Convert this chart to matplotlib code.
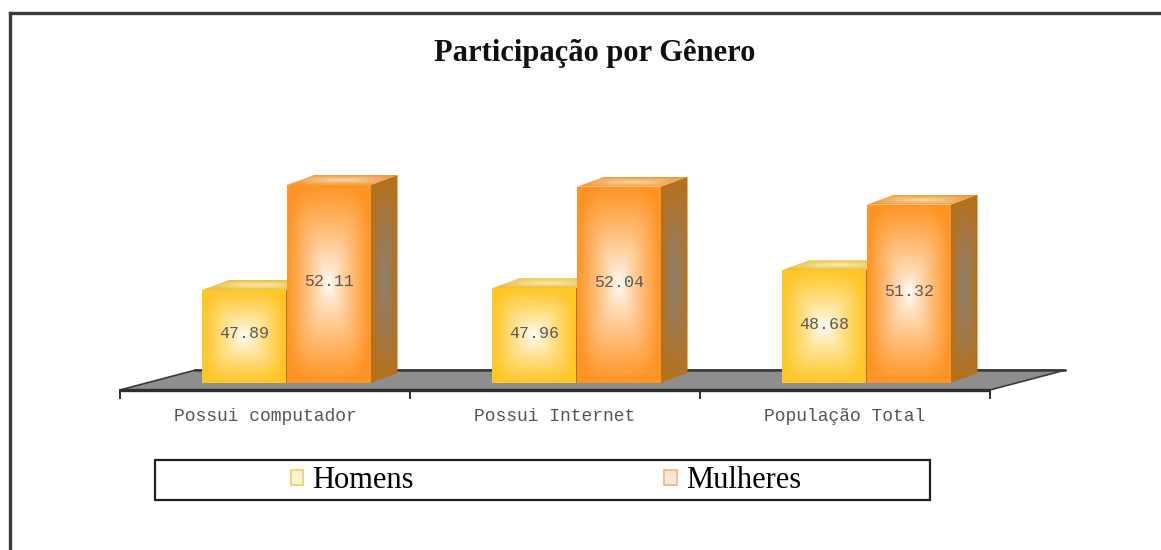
import numpy as np
import matplotlib
matplotlib.use("Agg")
import matplotlib.pyplot as plt
from matplotlib.patches import Polygon, Rectangle, Patch
from matplotlib.lines import Line2D

# ----- data -----
categories = ["Possui computador", "Possui Internet", "População Total"]
series_names = ["Homens", "Mulheres"]
homens = [47.89, 47.96, 48.68]
mulheres = [52.11, 52.04, 51.32]
axis_min = 44.15

# ----- styling -----
front_edge = {"Homens": "#FFC626", "Mulheres": "#FF9424"}
top_center = {"Homens": "#FCEBB0", "Mulheres": "#FCD8A8"}
top_edge = {"Homens": "#E9BC3A", "Mulheres": "#EE9836"}
side_center = "#8C8074"
side_edge = "#B6711A"
legend_fill = {"Homens": "#FEF4D4", "Mulheres": "#FDE7D4"}
legend_line = {"Homens": "#F2CB62", "Mulheres": "#F4B27A"}

bar_w = 0.288
offsets = {"Homens": -0.217, "Mulheres": 0.076}
DX, DY = 0.093, 0.40          # bar depth (oblique)
FDX, FDY = 0.26, 0.80         # floor depth


def hex_rgb(c):
    return np.array(matplotlib.colors.to_rgb(c))


def gradient_fill(ax, verts, center, edge, z, power=1.0):
    """Soft rectangle-from-center gradient clipped to a polygon."""
    verts = np.asarray(verts)
    poly = Polygon(verts, closed=True, facecolor="none", edgecolor="none", zorder=z)
    ax.add_patch(poly)
    n = 160
    u = np.linspace(-1, 1, n)
    U, V = np.meshgrid(u, u)
    t = np.clip((np.abs(U) ** 4 + np.abs(V) ** 4) ** 0.25, 0, 1) ** power
    c0, c1 = hex_rgb(center), hex_rgb(edge)
    img = c0[None, None, :] * (1 - t[..., None]) + c1[None, None, :] * t[..., None]
    x0, y0 = verts.min(axis=0)
    x1, y1 = verts.max(axis=0)
    im = ax.imshow(img, extent=(x0, x1, y0, y1), origin="lower", aspect="auto",
                   interpolation="bilinear", zorder=z)
    im.set_clip_path(poly)
    return poly


fig = plt.figure(figsize=(11.61, 5.5), dpi=100)
ax = fig.add_axes([0, 0, 1, 1])
ax.axis("off")

x = np.arange(len(categories))

# floor
f_front = axis_min - 0.28
floor = Polygon([(-0.5, f_front), (2.5, f_front),
                 (2.5 + FDX, f_front + FDY), (-0.5 + FDX, f_front + FDY)],
                closed=True, facecolor="#8E8E8E", edgecolor="#3A3A3A",
                linewidth=1.2, zorder=1)
ax.add_patch(floor)
ax.plot([-0.5, 2.5], [f_front, f_front], color="#2E2E2E", lw=2.4, zorder=2,
        solid_capstyle="butt")
ax.plot([-0.5 + FDX, 2.5 + FDX], [f_front + FDY, f_front + FDY],
        color="#3A3A3A", lw=1.8, zorder=2)
for b in np.arange(len(categories) + 1) - 0.5:
    ax.plot([b, b], [f_front, f_front - 0.32], color="#2E2E2E", lw=1.4, zorder=2)

# bars
z = 3
for name, vals in zip(series_names, [homens, mulheres]):
    heights = np.array(vals) - axis_min
    bars = ax.bar(x + offsets[name], heights, bar_w, bottom=axis_min,
                  align="edge", facecolor="none", edgecolor="none")
    for rect, v in zip(bars, vals):
        x0, y0 = rect.get_x(), rect.get_y()
        x1, y1 = x0 + rect.get_width(), y0 + rect.get_height()
        # side face
        gradient_fill(ax, [(x1, y0), (x1 + DX, y0 + DY), (x1 + DX, y1 + DY), (x1, y1)],
                      side_center, side_edge, z)
        # top face
        gradient_fill(ax, [(x0, y1), (x1, y1), (x1 + DX, y1 + DY), (x0 + DX, y1 + DY)],
                      top_center[name], top_edge[name], z + 0.1)
        # front face
        gradient_fill(ax, [(x0, y0), (x1, y0), (x1, y1), (x0, y1)],
                      "#FFFFFF", front_edge[name], z + 0.2, power=0.8)
        ax.text((x0 + x1) / 2, (y0 + y1) / 2 + 0.1, f"{v:.2f}",
                ha="center", va="center", fontsize=12,
                family="Liberation Mono", color="#5A5A5A", zorder=z + 0.3)
        z += 0.01
    z += 1

# category labels
for xi, cat in zip(x, categories):
    ax.text(xi, f_front - 1.05, cat, ha="center", va="center", fontsize=13,
            family="Liberation Mono", color="#555555")

ax.set_xlim(-0.9138, 3.0897)
ax.set_ylim(37.438, 59.544)

# title
fig.text(0.512, 0.9036, "Participação por Gênero", ha="center", va="center",
         fontsize=22, fontweight="bold", family="Liberation Serif", color="#111111")

# legend box
fig.patches.append(Rectangle((155 / 1161, 1 - 500 / 550), 775 / 1161, 40 / 550,
                             transform=fig.transFigure, facecolor="white",
                             edgecolor="#1E1E1E", linewidth=1.6))
handles = [Patch(facecolor=legend_fill[n], edgecolor=legend_line[n], linewidth=1.2)
           for n in series_names]
fig.legend(handles, series_names, loc="center",
           bbox_to_anchor=(546 / 1161, 1 - 481 / 550), ncol=2, frameon=False,
           prop={"family": "Liberation Serif", "size": 22},
           handlelength=0.4, handleheight=0.4, handletextpad=0.3,
           columnspacing=8.2)

# outer frame (left and top edges visible)
fig.lines.append(Line2D([10 / 1161, 10 / 1161], [0, 1 - 13 / 550],
                        transform=fig.transFigure, color="#3C3C3C", lw=2.4))
fig.lines.append(Line2D([10 / 1161, 1], [1 - 13 / 550, 1 - 13 / 550],
                        transform=fig.transFigure, color="#3C3C3C", lw=2.4))

fig.savefig("out.png", dpi=100)
